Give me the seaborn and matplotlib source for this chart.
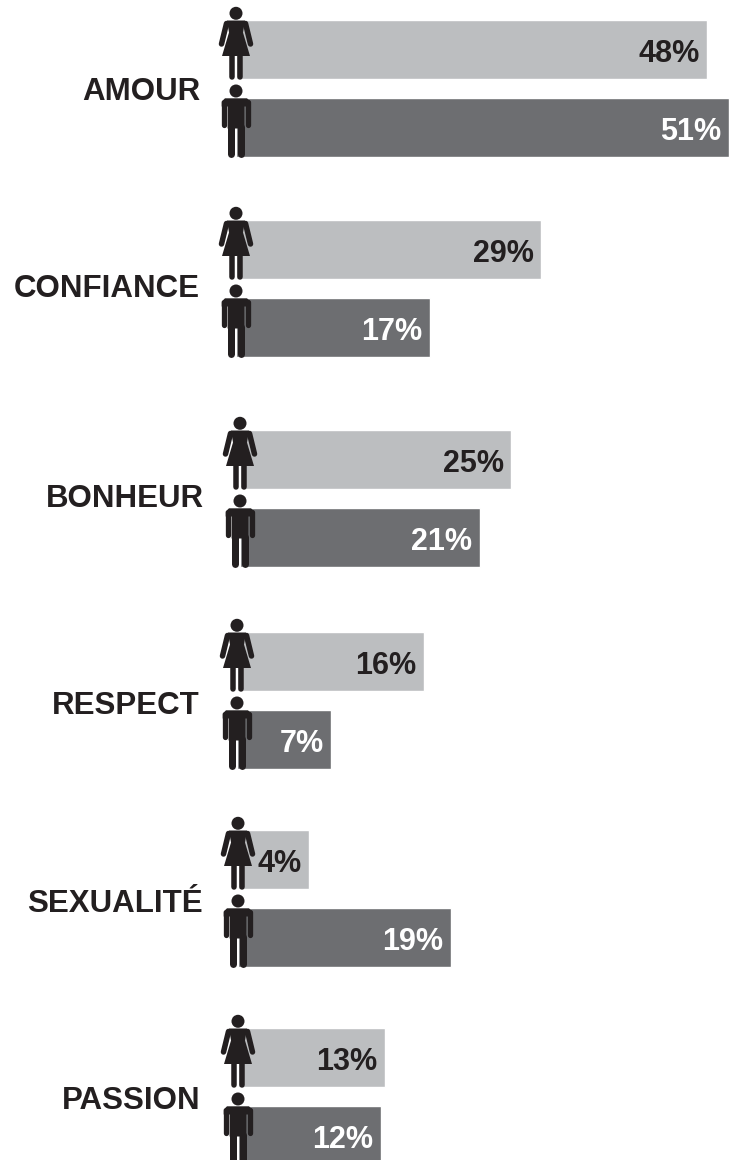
import matplotlib
matplotlib.use('Agg')
import matplotlib.pyplot as plt
from matplotlib.patches import Circle, Polygon
import seaborn as sns

sns.set_theme(style='white')
plt.rcParams['font.family'] = ['Liberation Sans', 'DejaVu Sans']

categories = ['AMOUR', 'CONFIANCE', 'BONHEUR', 'RESPECT', 'SEXUALITÉ', 'PASSION']
women = [48, 29, 25, 16, 4, 13]
men = [51, 17, 21, 7, 19, 12]

LIGHT, DARK, BLACK = '#BCBEC0', '#6D6E71', '#231F20'
W, H = 737, 1160
PX_PER_PCT = 9.05
BAR_H = 59

# layout of each group, in pixels of the picture
women_top = [20, 220, 430, 632, 830, 1028]
men_top = [98, 298, 508, 710, 908, 1106]
women_zero = [273, 279, 285, 279, 273, 267]
men_zero = [267, 276, 290, 268, 279, 272]
icon_x = [236, 236, 240, 237, 238, 238]
label_right = [200, 200, 204, 200, 203, 201]
label_y = [92, 289, 499, 706, 904, 1101]

fig = plt.figure(figsize=(W / 100, H / 100), dpi=100)


def px(n):
    return n * 72 / 100


def woman(ax, cx, t):
    ax.add_patch(Circle((cx, t - 6.7), 6.5, color=BLACK, lw=0))
    ax.add_patch(Polygon([(cx + a, t + b) for a, b in
                          [(-9, 0.5), (9, 0.5), (7, 12.5), (14, 36), (-14, 36), (-7, 12.5)]],
                         color=BLACK, lw=0))
    for s in (-1, 1):
        ax.plot([cx + s * 9.5, cx + s * 14.5], [t + 3.5, t + 24], color=BLACK, lw=px(5.5),
                solid_capstyle='round')
        ax.plot([cx + s * 4, cx + s * 4], [t + 34.5, t + 57], color=BLACK, lw=px(5.5),
                solid_capstyle='round')


def man(ax, cx, t):
    ax.add_patch(Circle((cx, t - 7), 6.5, color=BLACK, lw=0))
    ax.add_patch(Polygon([(cx + a, t + b) for a, b in
                          [(-11, 0.3), (11, 0.3), (14.3, 3.5), (14.3, 8.5), (8.4, 8.5), (8.4, 30.5),
                           (-8.4, 30.5), (-8.4, 8.5), (-14.3, 8.5), (-14.3, 3.5)]],
                         color=BLACK, lw=0))
    for s in (-1, 1):
        ax.plot([cx + s * 11.7, cx + s * 11.7], [t + 3.5, t + 26.5], color=BLACK, lw=px(5.3),
                solid_capstyle='round')
        ax.plot([cx + s * 4.8, cx + s * 4.8], [t + 28.5, t + 56], color=BLACK, lw=px(7),
                solid_capstyle='round')


def draw_bar(top, zero, cx, value, color, text_color):
    # one axes per bar, the source picture does not keep a common baseline
    ax = fig.add_axes([zero / W, 1 - (top + BAR_H) / H, (W - zero) / W, BAR_H / H])
    sns.barplot(x=[value], y=[''], color=color, width=1, saturation=1, ax=ax)
    ax.set_xlim(0, (W - zero) / PX_PER_PCT)
    ax.set_ylim(0.5, -0.5)
    ax.axis('off')
    stub = (zero - cx) / PX_PER_PCT
    # bars start behind the figure icons, not on zero
    for p in ax.patches:
        p.set_x(-stub)
        p.set_width(p.get_width() + stub)
        p.set_clip_on(False)
    ax.annotate(f'{value}%', (value, 0), xytext=(-5.5, -3), textcoords='offset points',
                ha='right', va='center', fontsize=22, fontweight='bold', color=text_color,
                zorder=5)


for i, cat in enumerate(categories):
    draw_bar(women_top[i], women_zero[i], icon_x[i], women[i], LIGHT, BLACK)
    draw_bar(men_top[i], men_zero[i], icon_x[i], men[i], DARK, 'white')
    fig.text(label_right[i] / W, 1 - label_y[i] / H, cat, ha='right', va='center',
             fontsize=22.5, fontweight='bold', color=BLACK)

icons = fig.add_axes([0, 0, 1, 1], facecolor='none')
icons.set_xlim(0, W)
icons.set_ylim(H, 0)
icons.axis('off')
for i in range(len(categories)):
    woman(icons, icon_x[i], women_top[i])
    man(icons, icon_x[i], men_top[i])

fig.savefig('out.png', dpi=100, facecolor='white')
